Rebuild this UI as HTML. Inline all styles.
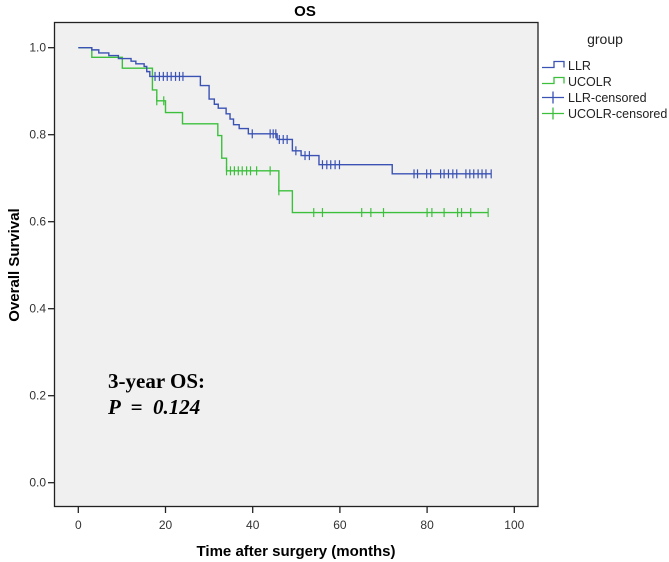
<!DOCTYPE html>
<html><head><meta charset="utf-8"><style>
body{margin:0;background:#fff;}
svg{display:block;font-family:"Liberation Sans",sans-serif;}
</style></head><body>
<svg id="chart" width="669" height="562" viewBox="0 0 669 562">
<rect x="54.5" y="22.5" width="483.5" height="484" fill="#f0f0f0" stroke="#222" stroke-width="1.3"/>
<text x="305" y="16" text-anchor="middle" font-weight="bold" font-size="15">OS</text>
<text transform="translate(19,265) rotate(-90)" text-anchor="middle" font-weight="bold" font-size="15">Overall Survival</text>
<text x="296" y="556" text-anchor="middle" font-weight="bold" font-size="15">Time after surgery (months)</text>
<text x="108" y="388" font-family="'Liberation Serif',serif" font-weight="bold" font-size="21">3-year OS:</text>
<text x="108" y="414" font-family="'Liberation Serif',serif" font-weight="bold" font-style="italic" font-size="21" xml:space="preserve">P  =  0.124</text>
<g id="axes"></g>
<g id="series"></g>
<g>
<text x="605" y="44" text-anchor="middle" font-size="14" fill="#222">group</text>
<g><path d="M542,67.5h12v-6h10v6" fill="none" stroke="#3a52b4" stroke-width="1.3"/><text x="568" y="70" font-size="12.5" fill="#222">LLR</text></g>
<g><path d="M542,83.5h12v-6h10v6" fill="none" stroke="#3cc03c" stroke-width="1.3"/><text x="568" y="86" font-size="12.5" fill="#222">UCOLR</text></g>
<g><path d="M542,97.5h22M553,91.5v12" fill="none" stroke="#3a52b4" stroke-width="1.3"/><text x="568" y="102" font-size="12.5" fill="#222">LLR-censored</text></g>
<g><path d="M542,113.5h22M553,107.5v12" fill="none" stroke="#3cc03c" stroke-width="1.3"/><text x="568" y="118" font-size="12.5" fill="#222">UCOLR-censored</text></g>
</g>
</svg>
<script>
const xTicks=[0,20,40,60,80,100];
const yTicks=[0.0,0.2,0.4,0.6,0.8,1.0];
const llrTimes=[0,3.1,4.7,7.0,9.2,12.1,13.2,15.1,15.7,16.4,28.0,30.0,31.2,32.1,33.9,34.8,35.6,36.9,39.0,45.6,49.1,51.1,55.2,72.0];
const llrSurv=[1.0,0.995,0.988,0.982,0.975,0.969,0.963,0.957,0.945,0.934,0.913,0.882,0.870,0.861,0.848,0.836,0.823,0.814,0.802,0.789,0.763,0.752,0.731,0.710];
const llrCensored=[17.6,18.6,19.5,20.4,21.3,22.3,23.2,24.0,39.9,44.0,44.7,45.3,46.1,47.0,47.9,49.9,52.0,53.0,56.0,57.0,57.9,58.9,59.9,77.0,77.8,79.9,80.8,83.1,83.9,84.9,85.9,86.8,88.9,89.8,90.7,91.7,92.6,93.5,94.7];
const ucolrTimes=[0,3.1,10.1,17.0,18.0,20.0,23.9,32.0,32.9,34.0,46.0,49.1];
const ucolrSurv=[1.0,0.978,0.953,0.903,0.878,0.851,0.825,0.798,0.746,0.717,0.671,0.621];
const ucolrCensored=[18.0,19.6,34.0,34.9,35.8,36.7,37.6,38.6,39.5,40.9,44.0,46.0,54.0,56.0,65.0,67.1,70.0,80.0,81.1,83.9,87.0,87.9,90.0,94.0];

const NS='http://www.w3.org/2000/svg';
function xs(t){return 78.3+4.36*t;}
function ys(v){return 482.7-435*v;}
function mk(tag,attrs,parent){const e=document.createElementNS(NS,tag);for(const k in attrs)e.setAttribute(k,attrs[k]);parent.appendChild(e);return e;}
const axes=document.getElementById('axes');
xTicks.forEach(t=>{
  const l=mk('line',{x1:xs(t),x2:xs(t),y1:506.5,y2:513,stroke:'#222','stroke-width':1.3},axes);
  
  
  const tx=mk('text',{x:xs(t),y:529,'text-anchor':'middle','font-size':12,fill:'#333'},axes);
  tx.textContent=String(t);
  
  
});
yTicks.forEach(v=>{
  const l=mk('line',{x1:48,x2:54.5,y1:ys(v),y2:ys(v),stroke:'#222','stroke-width':1.3},axes);
  
  
  const tx=mk('text',{x:46,y:ys(v)+4,'text-anchor':'end','font-size':12,fill:'#333'},axes);
  tx.textContent=v.toFixed(1);
  
  
});
function survAt(times,surv,t){let s=surv[0];for(let i=0;i<times.length;i++){if(times[i]<=t)s=surv[i];}return s;}
function drawCurve(times,surv,cens,color,name){
  const g=document.getElementById('series');
  const end=Math.max(times[times.length-1],cens[cens.length-1]);
  let d='M'+xs(times[0])+','+ys(surv[0]);
  for(let i=1;i<times.length;i++){d+='H'+xs(times[i])+'V'+ys(surv[i]);}
  d+='H'+xs(end);
  const p=mk('path',{d:d,fill:'none',stroke:color,'stroke-width':1.4},g);
  
  
  cens.forEach(t=>{
    const y=ys(survAt(times,surv,t));
    const c=mk('line',{x1:xs(t),x2:xs(t),y1:y-4.5,y2:y+4.5,stroke:color,'stroke-width':1.2},g);
    
    
  });
}
drawCurve(ucolrTimes,ucolrSurv,ucolrCensored,'#3cc03c','ucolr');
drawCurve(llrTimes,llrSurv,llrCensored,'#3a52b4','llr');
</script>
</body></html>
